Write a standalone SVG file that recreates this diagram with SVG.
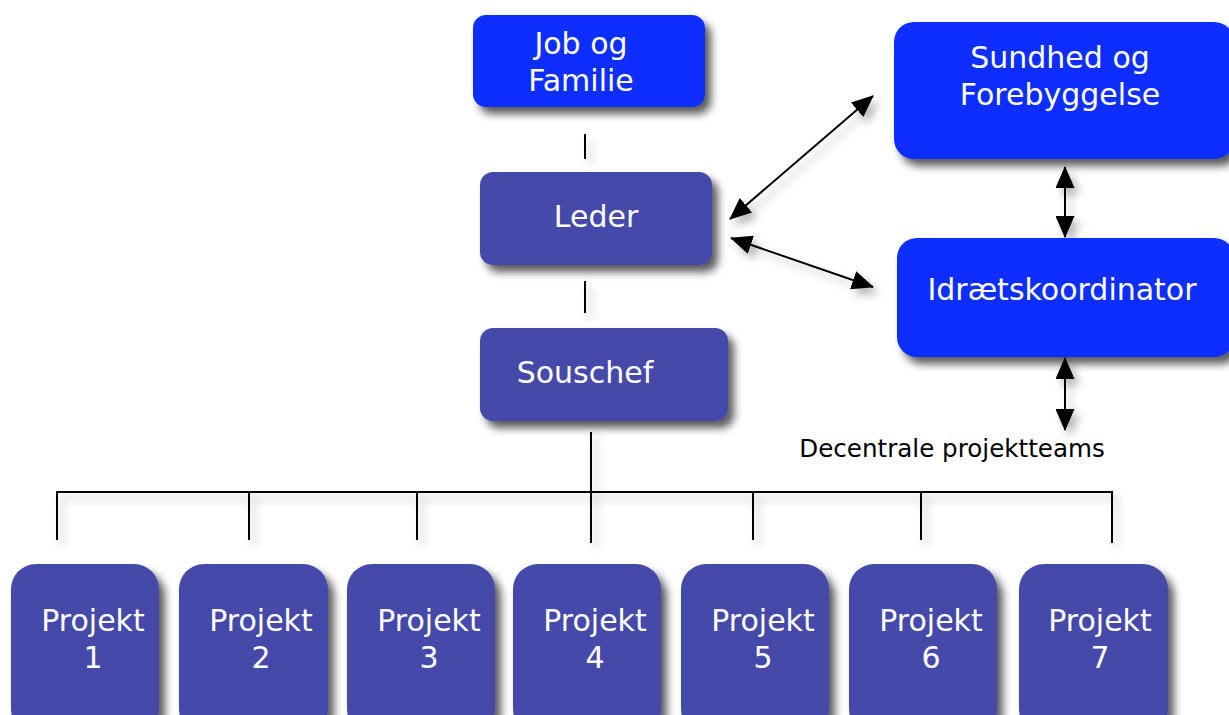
<svg xmlns="http://www.w3.org/2000/svg" width="1229" height="715" viewBox="0 0 1229 715">
<style>
.blue{fill:#0b2eff}
.purple{fill:#4449a9}
.lbl{font-family:"DejaVu Sans",Verdana,sans-serif;font-size:30px;fill:#ffffff;text-anchor:middle}
.cap{font-family:"DejaVu Sans",Verdana,sans-serif;font-size:24.6px;fill:#000000;text-anchor:middle}
.ln{stroke:#000;stroke-width:2;fill:none}
</style>
<defs>
<filter id="sh" x="-20%" y="-20%" width="150%" height="160%">
<feDropShadow dx="6" dy="7" stdDeviation="4" flood-color="#000" flood-opacity="0.65"/>
</filter>
<filter id="lsh" x="-50%" y="-50%" width="200%" height="200%">
<feDropShadow dx="5" dy="6" stdDeviation="4" flood-color="#000" flood-opacity="0.3"/>
</filter>
<marker id="ah" viewBox="0 0 22 19" refX="21" refY="9.5" markerWidth="22" markerHeight="19" markerUnits="userSpaceOnUse" orient="auto-start-reverse">
<path d="M0,0 L22,9.5 L0,19 Z" fill="#000"/>
</marker>
</defs>
<g id="connectors" filter="url(#lsh)">
<line class="ln" x1="585" y1="134" x2="585" y2="159"/>
<line class="ln" x1="585" y1="281" x2="585" y2="313"/>
<line class="ln" x1="591" y1="432" x2="591" y2="492"/>
<polyline class="ln" points="57,540 57,492 1112,492 1112,543"/>
<line class="ln" x1="249" y1="492" x2="249" y2="540"/>
<line class="ln" x1="417" y1="492" x2="417" y2="540"/>
<line class="ln" x1="591" y1="492" x2="591" y2="543"/>
<line class="ln" x1="753" y1="492" x2="753" y2="540"/>
<line class="ln" x1="921" y1="492" x2="921" y2="540"/>
<line class="ln" x1="730" y1="219" x2="873" y2="96" marker-start="url(#ah)" marker-end="url(#ah)"/>
<line class="ln" x1="731" y1="238" x2="873" y2="287" marker-start="url(#ah)" marker-end="url(#ah)"/>
<line class="ln" x1="1065" y1="167" x2="1065" y2="237" marker-start="url(#ah)" marker-end="url(#ah)"/>
<line class="ln" x1="1065" y1="358" x2="1065" y2="430" marker-start="url(#ah)" marker-end="url(#ah)"/>
</g>
<g id="job">
<rect class="blue" x="473" y="15" width="232" height="92" rx="13" filter="url(#sh)"/>
<text class="lbl" x="581" y="54">Job og</text>
<text class="lbl" x="581" y="91">Familie</text>
</g>
<g id="leder">
<rect class="purple" x="480" y="172" width="232" height="93" rx="13" filter="url(#sh)"/>
<text class="lbl" x="596" y="227">Leder</text>
</g>
<g id="souschef">
<rect class="purple" x="480" y="328" width="248" height="93" rx="13" filter="url(#sh)"/>
<text class="lbl" x="585" y="383">Souschef</text>
</g>
<g id="sundhed">
<rect class="blue" x="894" y="22" width="340" height="137" rx="20" filter="url(#sh)"/>
<text class="lbl" x="1060" y="68">Sundhed og</text>
<text class="lbl" x="1060" y="105">Forebyggelse</text>
</g>
<g id="idraet">
<rect class="blue" x="897" y="238" width="337" height="119" rx="20" filter="url(#sh)"/>
<text class="lbl" x="1062" y="300">Idrætskoordinator</text>
</g>
<g id="decentrale">
<text class="cap" x="952" y="457">Decentrale projektteams</text>
</g>
<g id="p1">
<rect class="purple" x="11" y="564" width="148" height="170" rx="25" filter="url(#sh)"/>
<text class="lbl" x="93" y="631">Projekt</text><text class="lbl" x="93" y="668">1</text>
</g>
<g id="p2">
<rect class="purple" x="179" y="564" width="149" height="170" rx="25" filter="url(#sh)"/>
<text class="lbl" x="261" y="631">Projekt</text><text class="lbl" x="261" y="668">2</text>
</g>
<g id="p3">
<rect class="purple" x="347" y="564" width="148" height="170" rx="25" filter="url(#sh)"/>
<text class="lbl" x="429" y="631">Projekt</text><text class="lbl" x="429" y="668">3</text>
</g>
<g id="p4">
<rect class="purple" x="513" y="564" width="148" height="170" rx="25" filter="url(#sh)"/>
<text class="lbl" x="595" y="631">Projekt</text><text class="lbl" x="595" y="668">4</text>
</g>
<g id="p5">
<rect class="purple" x="681" y="564" width="148" height="170" rx="25" filter="url(#sh)"/>
<text class="lbl" x="763" y="631">Projekt</text><text class="lbl" x="763" y="668">5</text>
</g>
<g id="p6">
<rect class="purple" x="849" y="564" width="148" height="170" rx="25" filter="url(#sh)"/>
<text class="lbl" x="931" y="631">Projekt</text><text class="lbl" x="931" y="668">6</text>
</g>
<g id="p7">
<rect class="purple" x="1019" y="564" width="149" height="170" rx="25" filter="url(#sh)"/>
<text class="lbl" x="1100" y="631">Projekt</text><text class="lbl" x="1100" y="668">7</text>
</g>
</svg>
